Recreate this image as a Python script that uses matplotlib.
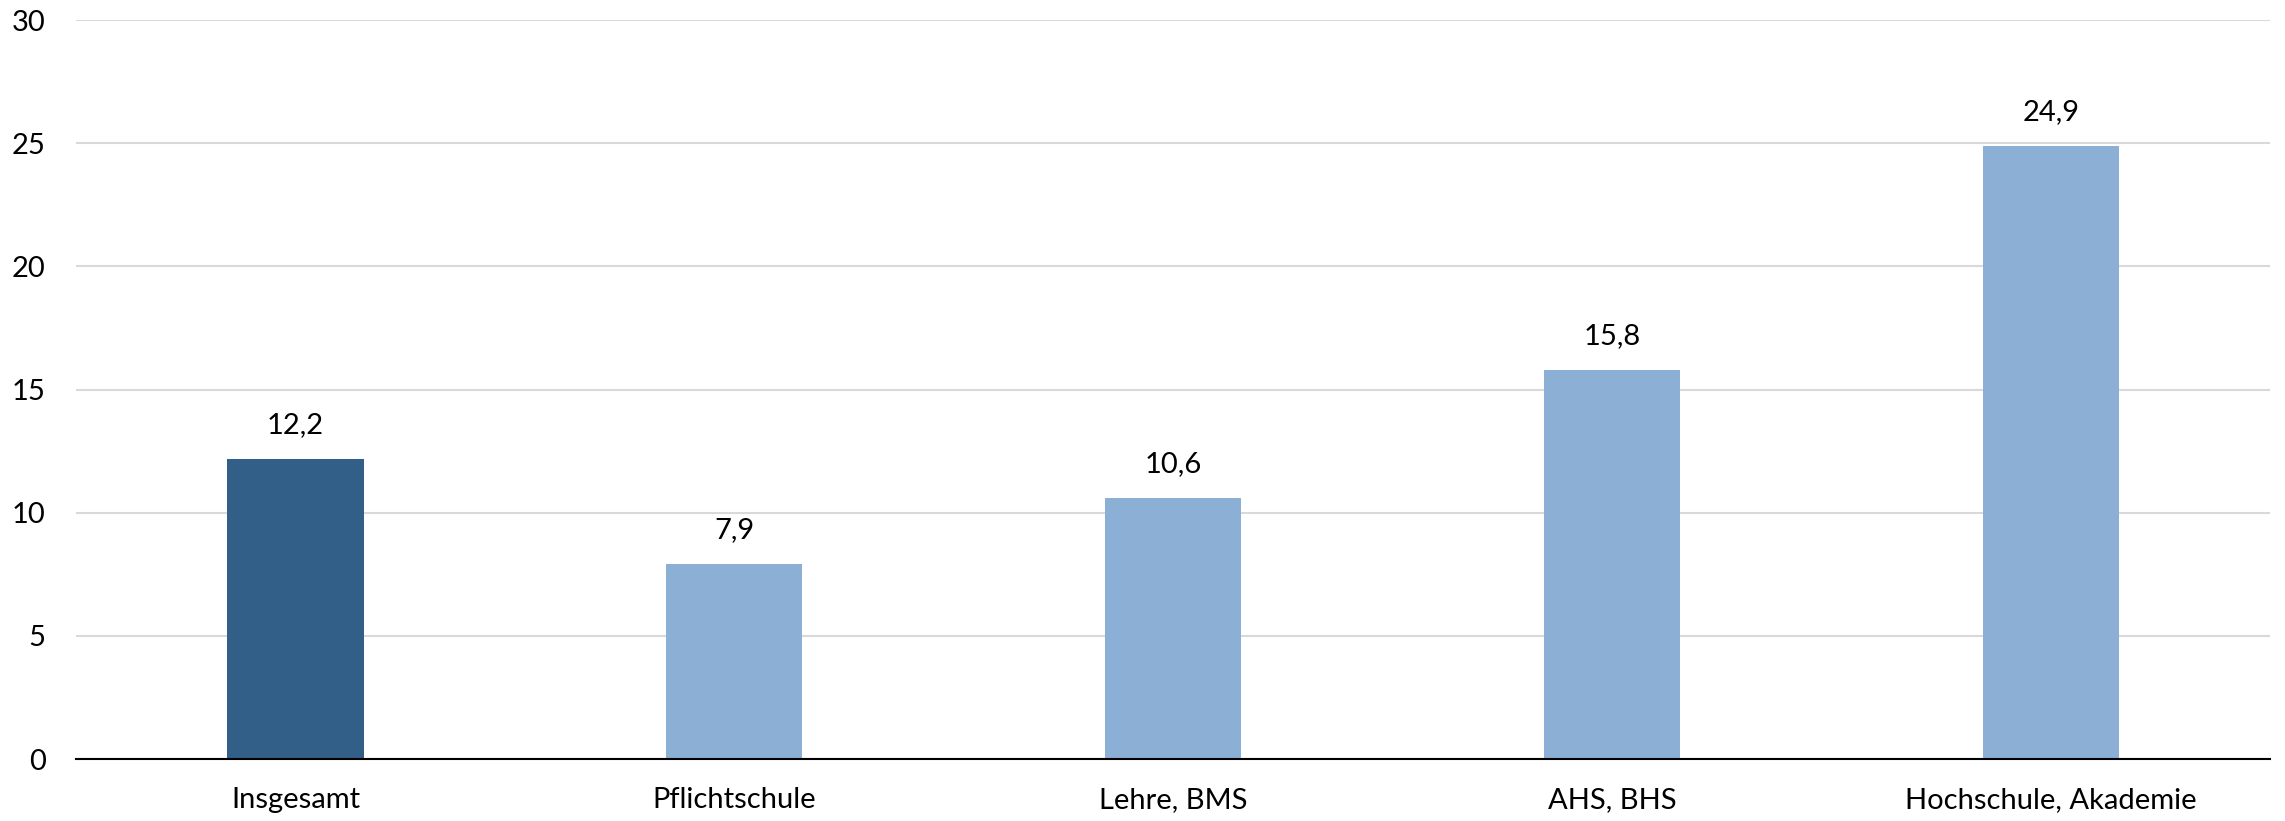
import matplotlib
matplotlib.use("Agg")
from matplotlib import pyplot as plt

categories = ["Insgesamt", "Pflichtschule", "Lehre, BMS", "AHS, BHS", "Hochschule, Akademie"]
values = [12.2, 7.9, 10.6, 15.8, 24.9]
yticks = [0, 5, 10, 15, 20, 25, 30]

plt.rcParams["font.family"] = ["Lato", "DejaVu Sans"]

fig = plt.figure(figsize=(22.85, 8.21), dpi=100)
ax = fig.add_axes([0.0333, 0.0755, 0.9602, 0.900])

colors = ["#325F87"] + ["#8BAFD5"] * (len(values) - 1)
x = range(len(categories))
bars = ax.bar(x, values, width=0.31, color=colors, zorder=3)

# value labels with German decimal comma
for b, v in zip(bars, values):
    ax.text(b.get_x() + b.get_width() / 2, v + 0.85, f"{v:.1f}".replace(".", ","),
            ha="center", va="bottom", fontsize=21, color="black")

ax.set_xlim(-0.5, len(categories) - 0.5)
ax.set_ylim(0, 30)
ax.set_yticks(yticks)
ax.set_xticks(list(x))
ax.set_xticklabels(categories)
ax.tick_params(axis="both", length=0, labelsize=21, colors="black")
ax.tick_params(axis="x", pad=20)
ax.tick_params(axis="y", pad=22)
ax.yaxis.grid(True, color="#D9D9D9", linewidth=1.5, zorder=0)

for s in ["top", "right", "left"]:
    ax.spines[s].set_visible(False)
ax.spines["bottom"].set_color("black")
ax.spines["bottom"].set_linewidth(1.5)
ax.spines["bottom"].set_zorder(4)

fig.savefig("out.png", dpi=100)
